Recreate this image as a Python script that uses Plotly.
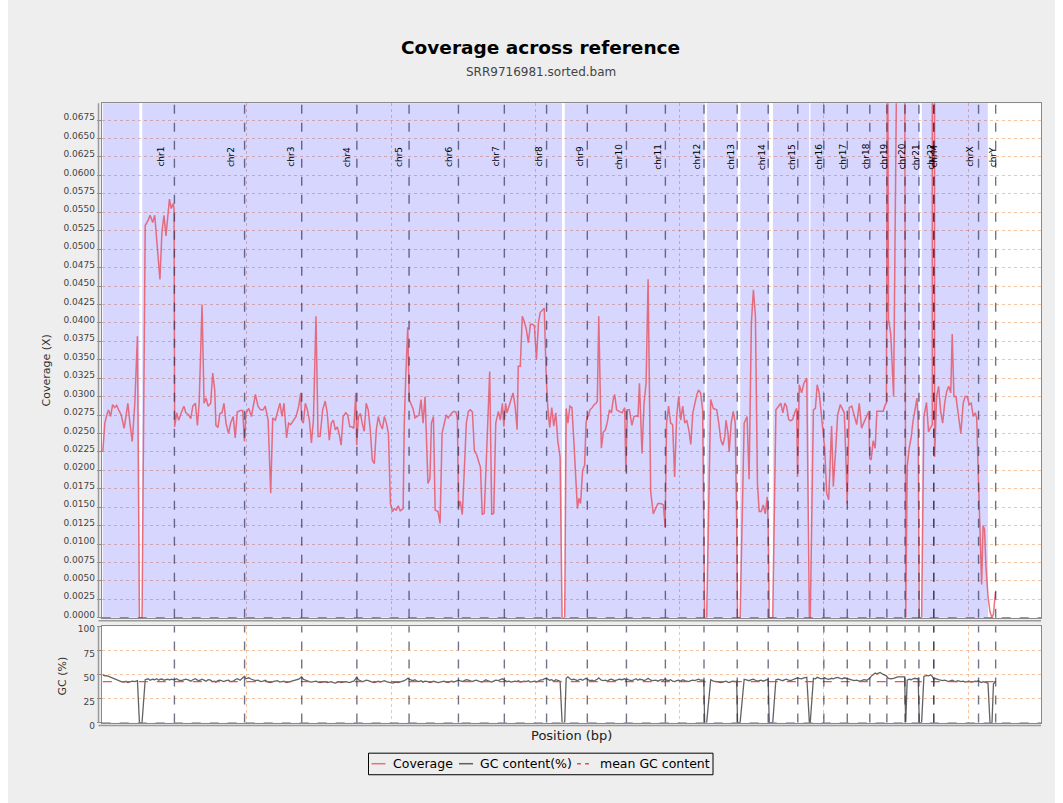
import numpy as np
import plotly.graph_objects as go

# ---------------- data ----------------
chrom_names = ["chr1", "chr2", "chr3", "chr4", "chr5", "chr6", "chr7", "chr8", "chr9",
               "chr10", "chr11", "chr12", "chr13", "chr14", "chr15", "chr16", "chr17",
               "chr18", "chr19", "chr20", "chr21", "chr22", "chrM", "chrX", "chrY"]
chrom_sizes_bp = [249250621, 243199373, 198022430, 191154276, 180915260, 171115067,
                  159138663, 146364022, 141213431, 135534747, 135006516, 133851895,
                  115169878, 107349540, 102531392, 90354753, 81195210, 78077248,
                  59128983, 63025520, 48129895, 51304566, 16571, 155270560, 59373566]

# window positions along the concatenated reference (Mb)
window_pos_mb = [
    1, 8, 15, 21, 28, 35, 42, 49, 56, 65, 75, 81, 88, 95, 103, 112, 121, 128, 137, 148, 158, 165, 174, 181, 188, 195, 199, 206, 213, 220, 227, 232, 238, 245, 248,  # chr1
    250, 257, 264, 273, 282, 289, 299, 306, 313, 322, 329, 335, 345, 352, 359, 366, 375, 382, 389, 393, 400, 407, 414, 421, 428, 437, 444, 453, 460, 467, 477, 486, 492,  # chr2
    497, 507, 516, 523, 530, 539, 548, 557, 564, 574, 583, 590, 599, 606, 615, 622, 629, 638, 645, 652, 661, 671, 680, 687, 690,  # chr3
    696, 703, 710, 717, 724, 731, 740, 747, 754, 763, 772, 779, 786, 793, 800, 807, 814, 821, 827, 834, 843, 850, 857, 864, 871, 878, 881,  # chr4
    887, 894, 900, 907, 914, 921, 928, 935, 942, 949, 956, 963, 970, 977, 984, 991, 998, 1005, 1011, 1018, 1025, 1032, 1042, 1046, 1051, 1058,  # chr5
    1063, 1069, 1076, 1083, 1090, 1097, 1104, 1111, 1118, 1128, 1135, 1140, 1147, 1153, 1163, 1170, 1177, 1184, 1191, 1198, 1204, 1211, 1218, 1225, 1230,  # chr6
    1234, 1240, 1247, 1254, 1261, 1268, 1275, 1282, 1289, 1296, 1303, 1310, 1316, 1323, 1329, 1334, 1342, 1349, 1356, 1363, 1372, 1379, 1386, 1391,  # chr7
    1393, 1397, 1402, 1409, 1416, 1423, 1430, 1437, 1441, 1448, 1455, 1462, 1469, 1476, 1483, 1490, 1497, 1504, 1511, 1517, 1527, 1531, 1538,  # chr8
    1543, 1550, 1557, 1564, 1571, 1578, 1586, 1593, 1602, 1607, 1613, 1620, 1627, 1634, 1641, 1646, 1651, 1657, 1664, 1671, 1676, 1680,  # chr9
    1683, 1690, 1697, 1704, 1711, 1715, 1720, 1729, 1736, 1743, 1750, 1757, 1764, 1770, 1775, 1782, 1791, 1801, 1810, 1814,  # chr10
    1819, 1826, 1835, 1842, 1849, 1856, 1861, 1870, 1877, 1884, 1891, 1900, 1909, 1918, 1925, 1935, 1944, 1950,  # chr11
    1955, 1962, 1969, 1976, 1983, 1990, 1997, 2004, 2011, 2018, 2025, 2032, 2039, 2046, 2053, 2060, 2066, 2073, 2080, 2084,  # chr12
    2087, 2094, 2108, 2117, 2129, 2136, 2143, 2150, 2157, 2161, 2168, 2172, 2179, 2186, 2193, 2198,  # chr13
    2201, 2210, 2224, 2234, 2241, 2249, 2256, 2263, 2270, 2276, 2283, 2290, 2297, 2304, 2307,  # chr14
    2311, 2323, 2334, 2342, 2351, 2358, 2365, 2371, 2378, 2385, 2392, 2399, 2406, 2409,  # chr15
    2415, 2423, 2431, 2441, 2450, 2453, 2464, 2471, 2477, 2484, 2491, 2498,  # chr16
    2503, 2510, 2517, 2527, 2533, 2541, 2548, 2557, 2564, 2571, 2578, 2581,  # chr17
    2588, 2597, 2605, 2614, 2623, 2631, 2639, 2649, 2656, 2659,  # chr18
    2664, 2671, 2678, 2684, 2695, 2706, 2713, 2717,  # chr19
    2721, 2724, 2732, 2742, 2756, 2776, 2780,  # chr20
    2784, 2789, 2796, 2803, 2809, 2816, 2823, 2827,  # chr21
    2831, 2839, 2847, 2856, 2863, 2870, 2876,  # chr22
    2881.1,  # chrM
    2884, 2891, 2898, 2905, 2912, 2919, 2926, 2933, 2940, 2945, 2951, 2958, 2965, 2975, 2983, 2990, 2997, 3004, 3011, 3018, 3025, 3030, 3035,  # chrX
    3043, 3047, 3052, 3057, 3062, 3069, 3076, 3083, 3088, 3095,  # chrY
]

coverage_x = [
    0.0225, 0.0264, 0.0275, 0.0282, 0.0273, 0.0289, 0.0285, 0.0288, 0.0282, 0.0275, 0.0257, 0.0273, 0.0291, 0.0264, 0.0239, 0.0291, 0.0382, 0, 0, 0.0532, 0.0539, 0.0546, 0.0536, 0.0546, 0.0514, 0.0473, 0.0459, 0.0523, 0.0546, 0.0518, 0.0555, 0.0568, 0.0555, 0.0562, 0.0555,
    0.0259, 0.0278, 0.0268, 0.0278, 0.0287, 0.0278, 0.0275, 0.0270, 0.0287, 0.0291, 0.0261, 0.0291, 0.0425, 0.0291, 0.0298, 0.0287, 0.0291, 0.0332, 0.0309, 0.0261, 0.0258, 0.0277, 0.0278, 0.0291, 0.0264, 0.0250, 0.0264, 0.0273, 0.0244, 0.0279, 0.0281, 0.0281, 0.0239,
    0.0277, 0.0284, 0.0273, 0.0287, 0.0303, 0.0287, 0.0282, 0.0282, 0.0287, 0.0268, 0.0169, 0.0271, 0.0268, 0.0278, 0.0291, 0.0273, 0.0291, 0.0244, 0.0264, 0.0262, 0.0268, 0.0273, 0.0287, 0.0305, 0.0268,
    0.0264, 0.0291, 0.0282, 0.0268, 0.0237, 0.0268, 0.0409, 0.0246, 0.0246, 0.0282, 0.0294, 0.0278, 0.0241, 0.0264, 0.0268, 0.0255, 0.0259, 0.0248, 0.0234, 0.0273, 0.0278, 0.0275, 0.0259, 0.0259, 0.0257, 0.0305, 0.0234,
    0.0273, 0.0277, 0.0264, 0.0253, 0.0291, 0.0282, 0.0255, 0.0214, 0.0209, 0.0255, 0.0273, 0.0262, 0.0256, 0.0273, 0.0264, 0.0250, 0.0155, 0.0144, 0.0148, 0.0146, 0.0152, 0.0145, 0.0148, 0.0264, 0.0327, 0.0394,
    0.0296, 0.0291, 0.0284, 0.0271, 0.0273, 0.0275, 0.0296, 0.0264, 0.0300, 0.0182, 0.0189, 0.0264, 0.0273, 0.0146, 0.0144, 0.0128, 0.0250, 0.0264, 0.0275, 0.0271, 0.0275, 0.0278, 0.0280, 0.0279, 0.0270,
    0.0150, 0.0158, 0.0140, 0.0200, 0.0264, 0.0280, 0.0282, 0.0279, 0.0226, 0.0222, 0.0213, 0.0204, 0.0140, 0.0142, 0.0200, 0.0250, 0.0334, 0.0140, 0.0142, 0.0264, 0.0280, 0.0268, 0.0291, 0.0259,
    0.0273, 0.0291, 0.0278, 0.0287, 0.0296, 0.0305, 0.0287, 0.0255, 0.0341, 0.0341, 0.0409, 0.0402, 0.0391, 0.0373, 0.0398, 0.0398, 0.0396, 0.0350, 0.0400, 0.0414, 0.0418, 0.0420, 0.0327,
    0.0287, 0.0258, 0.0285, 0.0260, 0.0278, 0.0240, 0.0218, 0, 0, 0.0284, 0.0264, 0.0287, 0.0285, 0.0237, 0.0173, 0.0148, 0.0162, 0.0155, 0.0200, 0.0207, 0.0264, 0.0273,
    0.0273, 0.0282, 0.0285, 0.0289, 0.0291, 0.0294, 0.0409, 0.0230, 0.0252, 0.0255, 0.0266, 0.0282, 0.0278, 0.0296, 0.0303, 0.0282, 0.0280, 0.0278, 0.0285, 0.0198,
    0.0282, 0.0282, 0.0261, 0.0273, 0.0274, 0.0273, 0.0318, 0.0223, 0.0291, 0.0318, 0.0459, 0.0171, 0.0141, 0.0148, 0.0155, 0.0155, 0.0153, 0.0123,
    0.0264, 0.0287, 0.0264, 0.0262, 0.0191, 0.0273, 0.0300, 0.0268, 0.0287, 0.0264, 0.0268, 0.0255, 0.0235, 0.0278, 0.0291, 0.0303, 0.0309, 0.0305, 0.0282, 0.0150,
    0, 0, 0.0296, 0.0284, 0.0282, 0.0264, 0.0241, 0.0234, 0.0246, 0.0268, 0.0250, 0.0225, 0.0264, 0.0280, 0.0264, 0.0128,
    0, 0, 0.0264, 0.0273, 0.0188, 0.0400, 0.0445, 0.0409, 0.0182, 0.0144, 0.0144, 0.0153, 0.0141, 0.0164, 0.0130,
    0, 0, 0.0282, 0.0287, 0.0291, 0.0278, 0.0291, 0.0287, 0.0269, 0.0267, 0.0269, 0.0278, 0.0284, 0.0191,
    0.0316, 0.0305, 0.0318, 0.0325, 0, 0, 0.0282, 0.0284, 0.0316, 0.0305, 0.0278, 0.0250,
    0.0230, 0.0169, 0.0160, 0.0260, 0.0178, 0.0227, 0.0275, 0.0289, 0.0284, 0.0278, 0.0200, 0.0155,
    0.0285, 0.0287, 0.0275, 0.0262, 0.0291, 0.0257, 0.0265, 0.0273, 0.0280, 0.0216,
    0.0214, 0.0240, 0.0230, 0.0280, 0.0280, 0.0280, 0.0289, 0.0291,
    0.0900, 0.0405, 0.0385, 0.0300, 0.0900, 0.0900, 0.0900,
    0, 0.0205, 0.0230, 0.0245, 0.0266, 0.0284, 0.0298, 0.0264,
    0, 0, 0.0273, 0.0292, 0.0252, 0.0258, 0.0262,
    2.0,
    0.0218, 0.0300, 0.0314, 0.0280, 0.0264, 0.0291, 0.0307, 0.0314, 0.0305, 0.0385, 0.0300, 0.0300, 0.0282, 0.0250, 0.0291, 0.0300, 0.0300, 0.0289, 0.0291, 0.0273, 0.0278, 0.0271, 0.0200,
    0.0110, 0.0045, 0.0125, 0.0120, 0.0070, 0.0030, 0.0008, 0, 0.0005, 0.0035,
]

gc_percent = [
    49.5, 48.5, 48.8, 48.0, 47.5, 46.5, 45.5, 44.5, 43.5, 42.5, 42.0, 43.0, 41.5, 42.5, 43.0, 42.5, 43.5, 0, 0, 44.5, 45.5, 44.0, 45.0, 44.5, 45.5, 44.0, 44.8, 45.2, 44.0, 44.6, 45.0, 44.2, 45.0, 44.5, 45.0,
    44.5, 45.5, 44.0, 43.5, 44.8, 45.0, 44.0, 43.0, 44.5, 45.5, 44.0, 43.5, 45.0, 44.0, 43.0, 44.5, 44.0, 42.5, 43.0, 42.0, 43.5, 44.0, 43.0, 42.5, 43.5, 44.0, 42.5, 43.0, 44.5, 45.5, 44.0, 46.0, 48.0,
    45.5, 46.5, 45.0, 44.0, 43.5, 44.0, 42.5, 43.0, 44.0, 42.0, 41.5, 42.5, 43.0, 43.5, 42.0, 42.5, 43.0, 41.5, 42.0, 42.5, 43.5, 44.0, 45.0, 46.5, 47.5,
    45.0, 44.0, 43.5, 42.5, 42.0, 42.5, 43.0, 42.0, 41.5, 42.0, 42.5, 41.5, 42.0, 42.5, 41.5, 41.0, 42.0, 42.5, 41.5, 42.0, 42.5, 42.0, 41.5, 42.5, 43.0, 45.5, 47.5,
    44.5, 43.5, 42.5, 43.0, 44.0, 43.5, 42.5, 42.0, 41.5, 42.5, 43.0, 42.0, 42.5, 43.5, 42.5, 42.0, 41.5, 41.0, 41.5, 42.0, 41.5, 42.0, 42.5, 43.5, 44.5, 46.0,
    45.0, 44.0, 43.5, 44.5, 43.0, 42.5, 43.5, 42.0, 43.0, 42.5, 41.5, 42.0, 43.0, 42.5, 41.5, 42.0, 42.5, 43.0, 42.0, 41.5, 42.5, 43.0, 42.0, 42.5, 43.5,
    44.0, 43.0, 42.5, 43.5, 44.5, 44.0, 43.0, 42.5, 43.5, 44.0, 43.0, 42.5, 42.0, 43.5, 44.5, 43.5, 42.5, 42.0, 43.0, 44.0, 43.5, 44.5, 45.5, 44.5,
    44.0, 43.5, 42.5, 43.0, 42.0, 42.5, 43.0, 42.5, 43.5, 42.0, 42.5, 43.0, 42.5, 43.5, 42.0, 42.5, 43.0, 42.0, 43.5, 44.0, 44.5, 45.5, 46.0,
    45.0, 44.0, 44.5, 43.0, 44.5, 43.5, 43.0, 0, 0, 46.0, 47.5, 45.5, 44.5, 45.0, 44.0, 43.5, 44.5, 45.0, 44.0, 45.5, 46.0, 45.0,
    44.5, 43.5, 44.0, 43.0, 44.5, 45.0, 46.5, 44.0, 43.5, 44.0, 43.0, 44.5, 45.0, 44.0, 43.5, 44.0, 45.0, 44.5, 45.5, 44.0,
    45.0, 44.0, 43.5, 44.5, 45.5, 44.0, 45.0, 44.5, 43.5, 44.5, 46.0, 44.0, 43.5, 44.0, 43.0, 44.5, 44.0, 45.5,
    44.0, 43.5, 44.5, 43.0, 42.5, 43.5, 44.0, 43.0, 44.5, 43.5, 43.0, 42.5, 43.5, 44.0, 43.5, 44.5, 45.0, 44.0, 43.5, 44.0,
    0, 0, 44.5, 43.0, 42.5, 42.0, 41.5, 42.0, 42.5, 43.0, 42.0, 41.5, 42.5, 43.0, 42.5, 43.0,
    0, 0, 45.0, 44.0, 43.5, 44.5, 45.0, 44.0, 43.0, 43.5, 44.0, 43.0, 43.5, 44.5, 45.0,
    0, 0, 44.5, 45.0, 44.0, 43.5, 44.5, 45.0, 44.0, 43.5, 44.5, 45.0, 46.0, 46.5,
    46.0, 45.5, 46.5, 47.0, 0, 0, 46.0, 45.5, 47.0, 46.5, 45.5, 46.0,
    46.5, 45.5, 45.0, 46.0, 45.5, 46.5, 47.0, 46.0, 45.5, 46.5, 46.0, 45.5,
    45.0, 44.0, 43.5, 44.0, 43.0, 43.5, 44.5, 44.0, 45.0, 46.0,
    48.0, 50.0, 51.5, 50.5, 52.0, 50.0, 49.5, 48.5,
    47.0, 46.0, 45.5, 46.0, 47.5, 48.0, 47.5,
    0, 44.0, 45.0, 44.5, 45.5, 46.0, 45.5, 46.0,
    0, 0, 48.0, 49.0, 48.5, 49.5, 48.0,
    45.0,
    46.0, 45.0, 44.5, 44.0, 43.5, 44.0, 43.0, 42.5, 43.5, 44.0, 43.0, 42.5, 43.5, 42.5, 43.0, 42.0, 42.5, 43.0, 42.0, 42.5, 43.0, 42.5, 43.5,
    42.0, 41.5, 42.5, 42.0, 41.5, 41.0, 0, 0, 40.0, 43.0,
]

mean_gc_percent = 42.6

legend_labels = ["Coverage", "GC content(%)", "mean GC content"]

assert len(window_pos_mb) == len(coverage_x) == len(gc_percent)

# ---------------- derived ----------------
# the figure sits inside the page's default 8px body margin: 1047 + 16 = 1063, 787 + 16 = 803
W, H = 1047, 787
OFF = 8  # page-pixel offset of the figure
# vertical placement correction (page y = Y_A + Y_S * target y), a compromise between observed renders
Y_A, Y_S = -3.8, 1.016
x_bp = np.array(window_pos_mb, dtype=float) * 1e6
cov = np.array(coverage_x, dtype=float)
gc = np.array(gc_percent, dtype=float)
band_top = np.where(cov >= 0.004, 1.0, 0.0)   # shaded coverage band (clipped by axis)

sizes = np.array(chrom_sizes_bp, dtype=float)
ends = np.cumsum(sizes)
starts = ends - sizes

FONT = "DejaVu Sans"
GRID = "rgba(232,150,90,0.55)"
MARK = "rgba(40,40,70,0.65)"
AXIS = "#9a9a9a"
COV_COLOR = "rgba(232,80,95,0.8)"
GC_COLOR = "rgba(70,70,70,0.85)"
MEAN_COLOR = "rgba(240,60,60,0.9)"


def px_x(p):
    return (p - OFF) / W


def px_y(p):
    page_y = Y_A + Y_S * p
    return 1 - (page_y - OFF) / H


fig = go.Figure()

# shaded band (coverage +/- std)
fig.add_trace(go.Scatter(x=x_bp, y=band_top, mode="lines", line=dict(width=0, color="rgba(0,0,255,0)"),
                         fill="tozeroy", fillcolor="rgba(0,0,255,0.16)", showlegend=False,
                         hoverinfo="skip", xaxis="x", yaxis="y"))
# coverage
fig.add_trace(go.Scatter(x=x_bp, y=cov, mode="lines", name=legend_labels[0],
                         line=dict(color=COV_COLOR, width=1.5), showlegend=False,
                         xaxis="x", yaxis="y"))
# GC content
fig.add_trace(go.Scatter(x=x_bp, y=gc, mode="lines", name=legend_labels[1],
                         line=dict(color=GC_COLOR, width=1.3), showlegend=False,
                         xaxis="x2", yaxis="y2"))
fig.add_trace(go.Scatter(x=[x_bp[0], x_bp[-1]], y=[mean_gc_percent, mean_gc_percent], mode="lines",
                         name=legend_labels[2], showlegend=False,
                         line=dict(color=MEAN_COLOR, width=1.3, dash="dash"),
                         xaxis="x2", yaxis="y2"))

x_dom = [px_x(101.7), px_x(1041)]
x_range = [-2.8e6, 3252.8e6]
common_x = dict(domain=x_dom, range=x_range, showticklabels=False, ticks="",
                showgrid=True, gridcolor=GRID, griddash="dot", gridwidth=1,
                dtick=500e6, tick0=0, zeroline=False,
                showline=True, linecolor="#8a8a8a", linewidth=1, mirror=True)
common_y = dict(showgrid=True, gridcolor=GRID, griddash="dot", gridwidth=1, zeroline=False,
                showline=True, linecolor="#8a8a8a", linewidth=1, mirror=True,
                ticks="outside", ticklen=4, tickcolor="#8a8a8a",
                tickfont=dict(family=FONT, size=9, color="#444444"))

shapes = []
# chromosome boundaries in both panels
for e in ends:
    for yr in ["y domain", "y2 domain"]:
        shapes.append(dict(type="line", xref="x", yref=yr, x0=e, x1=e, y0=0, y1=1,
                           line=dict(color=MARK, width=1.4, dash="dash"), layer="above"))
for yr in ["y", "y2"]:
    shapes.append(dict(type="line", xref="x domain", yref=yr, x0=0, x1=1, y0=0, y1=0,
                       line=dict(color=MARK, width=1.4, dash="dash"), layer="above"))
# offset axis lines (left of each panel, below each panel)
for (y0, y1) in [(104.5, 617.5), (626, 722)]:
    shapes.append(dict(type="line", xref="paper", yref="paper", x0=px_x(98.5), x1=px_x(98.5),
                       y0=px_y(y1), y1=px_y(y0), line=dict(color=AXIS, width=1.5)))
for yb in [620.5, 725]:
    shapes.append(dict(type="line", xref="paper", yref="paper", x0=px_x(98.5), x1=px_x(1041),
                       y0=px_y(yb), y1=px_y(yb), line=dict(color=AXIS, width=1.5)))

# legend box (drawn by hand to match the compact legend)
LEG_Y = 763
shapes.append(dict(type="rect", xref="paper", yref="paper", x0=px_x(368.5), x1=px_x(713),
                   y0=px_y(774), y1=px_y(752.5), line=dict(color="black", width=1),
                   fillcolor="rgba(0,0,0,0)", layer="above"))
legend_items = [
    (371.5, 385.5, 390.5, COV_COLOR, "solid"),
    (459.0, 473.0, 477.5, GC_COLOR, "solid"),
    (577.0, 593.0, 597.5, MEAN_COLOR, "dash"),
]
annotations = []
for (lx0, lx1, tx, col, dsh), lab in zip(legend_items, legend_labels):
    shapes.append(dict(type="line", xref="paper", yref="paper", x0=px_x(lx0), x1=px_x(lx1),
                       y0=px_y(LEG_Y), y1=px_y(LEG_Y),
                       line=dict(color=col, width=1.5, dash="4px,4px" if dsh == "dash" else "solid"),
                       layer="above"))
    annotations.append(dict(x=px_x(tx), y=px_y(LEG_Y), xref="paper", yref="paper", text=lab,
                            showarrow=False, xanchor="left", yanchor="middle",
                            font=dict(family=FONT, size=12.5, color="black")))

# chromosome labels
for name, s, sz in zip(chrom_names, starts, sizes):
    annotations.append(dict(x=s + 0.81 * sz, xref="x", y=px_y(158), yref="paper", text=name,
                            showarrow=False, textangle=-90, xanchor="center", yanchor="middle",
                            font=dict(family=FONT, size=9, color="black")))
annotations += [
    dict(x=px_x(541), y=px_y(49), xref="paper", yref="paper", text="<b>Coverage across reference</b>",
         showarrow=False, xanchor="center", yanchor="middle", font=dict(family=FONT, size=18.5, color="black")),
    dict(x=px_x(541), y=px_y(73), xref="paper", yref="paper", text="SRR9716981.sorted.bam",
         showarrow=False, xanchor="center", yanchor="middle", font=dict(family=FONT, size=12, color="#444444")),
    dict(x=px_x(46), y=px_y(371), xref="paper", yref="paper", text="Coverage (X)", textangle=-90,
         showarrow=False, xanchor="center", yanchor="middle", font=dict(family=FONT, size=11, color="#333333")),
    dict(x=px_x(62), y=px_y(676), xref="paper", yref="paper", text="GC (%)", textangle=-90,
         showarrow=False, xanchor="center", yanchor="middle", font=dict(family=FONT, size=11, color="#333333")),
    dict(x=px_x(571), y=px_y(735), xref="paper", yref="paper", text="Position (bp)",
         showarrow=False, xanchor="center", yanchor="middle", font=dict(family=FONT, size=13, color="#222222")),
]

fig.update_layout(
    width=W, height=H, margin=dict(l=0, r=0, t=0, b=0),
    paper_bgcolor="#eeeeee", plot_bgcolor="white",
    font=dict(family=FONT, color="#333333"),
    xaxis=dict(anchor="y", **common_x),
    xaxis2=dict(anchor="y2", matches="x", **common_x),
    # ticklabelshift > 0 moves y labels down on screen: lift coverage labels, drop GC labels slightly
    yaxis=dict(anchor="x", domain=[px_y(617.5), px_y(104.5)], range=[0, 0.0698],
               dtick=0.0025, tick0=0, tickformat=".4f", ticklabelshift=-3, **common_y),
    yaxis2=dict(anchor="x2", domain=[px_y(722), px_y(626)], range=[0, 100],
                dtick=25, tick0=0, ticklabelshift=3, **common_y),
    shapes=shapes, annotations=annotations, showlegend=False,
)

# grey panel continues into the page margin above/below the figure (background only, no layout change)
bg_js = ("document.body.style.background="
         "'linear-gradient(to right, white 8px, #eeeeee 8px, #eeeeee 1055px, white 1055px)';")

fig.write_html("out.html", config={"displayModeBar": False}, post_script=bg_js)
